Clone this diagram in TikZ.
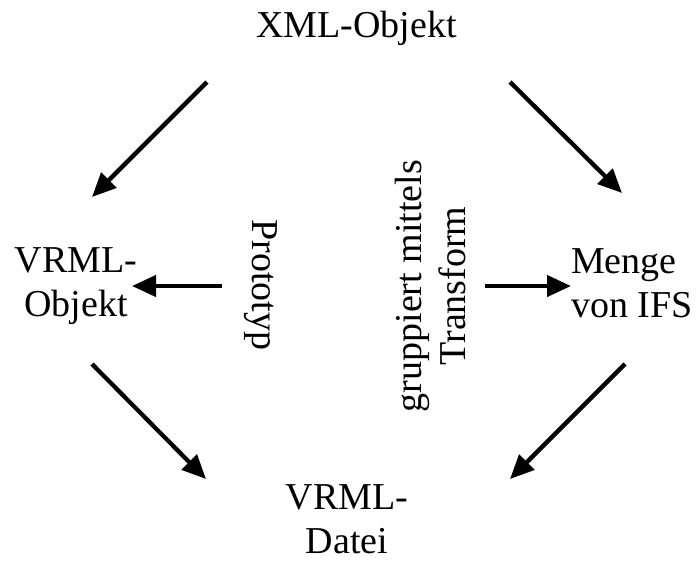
\documentclass[tikz,border=0pt]{standalone}
\usepackage{fontspec}
\setmainfont{Liberation Serif}
\usetikzlibrary{arrows.meta}

\begin{document}
\begin{tikzpicture}[
        x=1pt, y=-1pt,
        schrift/.style={
            font=\fontsize{38}{44}\selectfont,
            inner sep=0pt,
            align=center
        },
        pfeil/.style={-{Triangle[length=24pt, width=21pt]}, line width=4.3pt}
    ]
        \useasboundingbox (0,0) rectangle (696,560);

        \node[schrift] (xml) at (356.5,28) {XML-Objekt};
        \node[schrift] (vobj) at (76,286.5) {VRML-\\Objekt};
        \node[schrift, align=left, anchor=west] (menge) at (571,283) {Menge\\von IFS};
        \node[schrift] (datei) at (347,519) {VRML-\\Datei};
        \node[schrift, rotate=-90] (proto) at (261,285) {Prototyp};
        \node[schrift, rotate=90] (grup) at (430.5,286) {gruppiert mittels\\Transform};

        \coordinate (xml-l) at (207,82);
        \coordinate (xml-r) at (510,82);
        \coordinate (vobj-o) at (92,197);
        \coordinate (vobj-r) at (132,286);
        \coordinate (vobj-u) at (92,364);
        \coordinate (menge-o) at (622,193);
        \coordinate (menge-l) at (571,286);
        \coordinate (menge-u) at (625,364);
        \coordinate (datei-l) at (206,479);
        \coordinate (datei-r) at (510,479);
        \coordinate (proto-a) at (222,286);
        \coordinate (grup-a) at (485,286);

        \draw[pfeil] (xml-l) -- (vobj-o);
        \draw[pfeil] (xml-r) -- (menge-o);
        \draw[pfeil] (proto-a) -- (vobj-r);
        \draw[pfeil] (grup-a) -- (menge-l);
        \draw[pfeil] (vobj-u) -- (datei-l);
        \draw[pfeil] (menge-u) -- (datei-r);
    \end{tikzpicture}
\end{document}
